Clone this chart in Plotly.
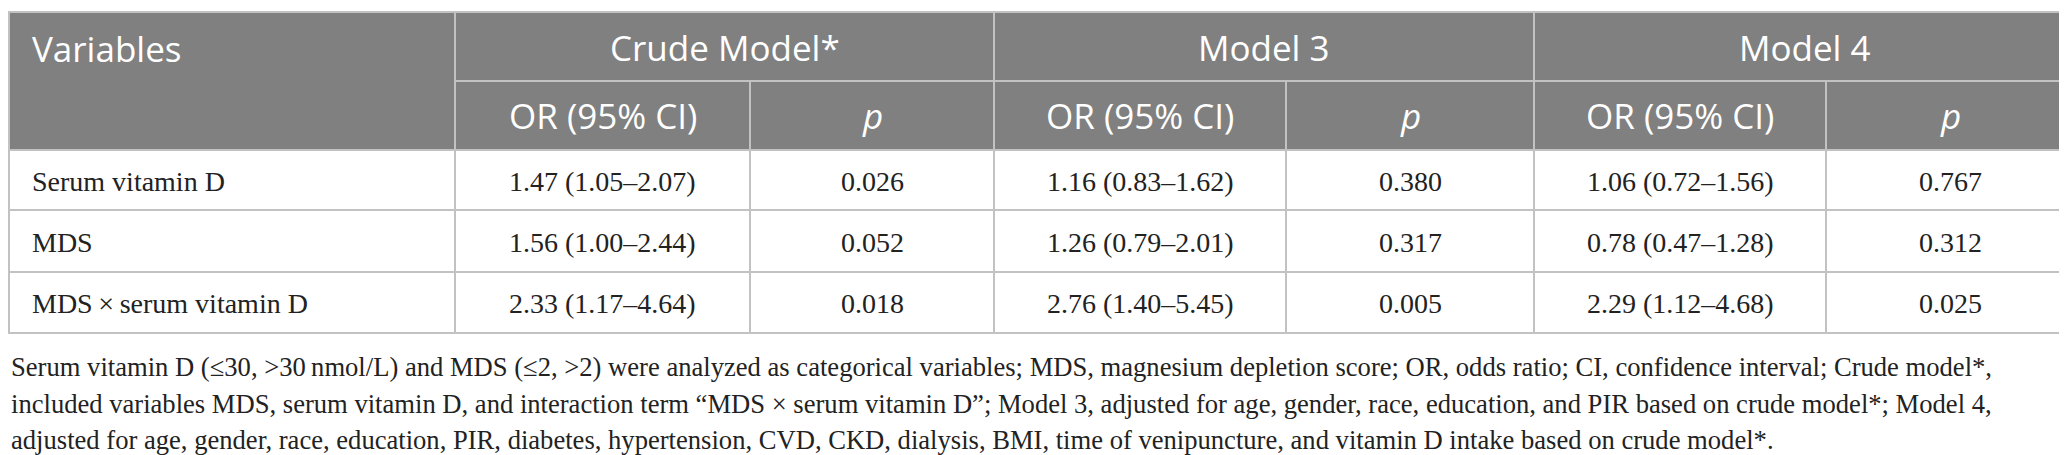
import plotly.graph_objects as go

# ---- table data ----
variables = ["Serum vitamin D", "MDS", "MDS\u2009×\u2009serum vitamin D"]
models = ["Crude Model*", "Model 3", "Model 4"]
sub_headers = ["OR (95% CI)", "<i>p</i>"]

or_crude = ["1.47 (1.05–2.07)", "1.56 (1.00–2.44)", "2.33 (1.17–4.64)"]
p_crude = ["0.026", "0.052", "0.018"]
or_m3 = ["1.16 (0.83–1.62)", "1.26 (0.79–2.01)", "2.76 (1.40–5.45)"]
p_m3 = ["0.380", "0.317", "0.005"]
or_m4 = ["1.06 (0.72–1.56)", "0.78 (0.47–1.28)", "2.29 (1.12–4.68)"]
p_m4 = ["0.767", "0.312", "0.025"]

footnote = [
    "Serum vitamin D (≤30, >30\u2009nmol/L) and MDS (≤2, >2) were analyzed as categorical variables; "
    "MDS, magnesium depletion score; OR, odds ratio; CI, confidence interval; Crude model*,",
    "included variables MDS, serum vitamin D, and interaction term “MDS × serum vitamin D”; "
    "Model 3, adjusted for age, gender, race, education, and PIR based on crude model*; Model 4,",
    "adjusted for age, gender, race, education, PIR, diabetes, hypertension, CVD, CKD, dialysis, BMI, "
    "time of venipuncture, and vitamin D intake based on crude model*.",
]

# ---- layout geometry (pixels) ----
W, H = 2067, 455
col_x = [0, 447, 742, 986, 1278, 1526, 1818, 2067]
row_y = [4, 73, 142, 202, 264, 325]
head_bg = "#808080"
grid = "#c2c2c2"
sans = "Open Sans"
serif = "Liberation Serif"

fig = go.Figure()
shapes = []
ann = []

# header background
shapes.append(dict(type="rect", x0=0, x1=W, y0=row_y[0], y1=row_y[2],
                   fillcolor=head_bg, line_width=0, layer="below"))

# horizontal rules
for y in [row_y[0], row_y[2], row_y[3], row_y[4], row_y[5]]:
    shapes.append(dict(type="line", x0=0, x1=W, y0=y, y1=y, line=dict(color=grid, width=2)))
shapes.append(dict(type="line", x0=col_x[1], x1=W, y0=row_y[1], y1=row_y[1],
                   line=dict(color=grid, width=2)))
# vertical rules
for x in [col_x[0] + 1, col_x[1], col_x[3], col_x[5], W - 1]:
    shapes.append(dict(type="line", x0=x, x1=x, y0=row_y[0], y1=row_y[5],
                       line=dict(color=grid, width=2)))
for x in [col_x[2], col_x[4], col_x[6]]:
    shapes.append(dict(type="line", x0=x, x1=x, y0=row_y[1], y1=row_y[5],
                       line=dict(color=grid, width=2)))

def txt(x, y, s, size, family, color="#222222", xanchor="center"):
    ann.append(dict(x=x, y=y, text=s, showarrow=False, xanchor=xanchor, yanchor="middle",
                    font=dict(family=family, size=size, color=color)))

# header text
txt(22, 40, "Variables", 35, sans, "white", "left")
for g, name in enumerate(models):
    xa, xb = col_x[1 + 2 * g], col_x[3 + 2 * g]
    txt((xa + xb) / 2, 39, name, 35, sans, "white")
    for k, sh in enumerate(sub_headers):
        c0, c1 = col_x[1 + 2 * g + k], col_x[2 + 2 * g + k]
        txt((c0 + c1) / 2, 107, sh, 35, sans, "white")

# body
cols = [or_crude, p_crude, or_m3, p_m3, or_m4, p_m4]
for r, var in enumerate(variables):
    yc = (row_y[2 + r] + row_y[3 + r]) / 2 + 1
    txt(22, yc, var, 28, serif, "#222222", "left")
    for c, vals in enumerate(cols):
        txt((col_x[1 + c] + col_x[2 + c]) / 2, yc, vals[r], 28, serif)

# footnote
for i, line in enumerate(footnote):
    txt(1, 359 + 36.5 * i, line, 26.6, serif, "#222222", "left")

fig.update_layout(
    width=W, height=H,
    margin=dict(l=0, r=0, t=0, b=0),
    paper_bgcolor="white", plot_bgcolor="white",
    xaxis=dict(range=[0, W], visible=False, fixedrange=True),
    yaxis=dict(range=[H, 0], visible=False, fixedrange=True),
    shapes=shapes, annotations=ann, showlegend=False,
)
fig.write_html("out.html")
